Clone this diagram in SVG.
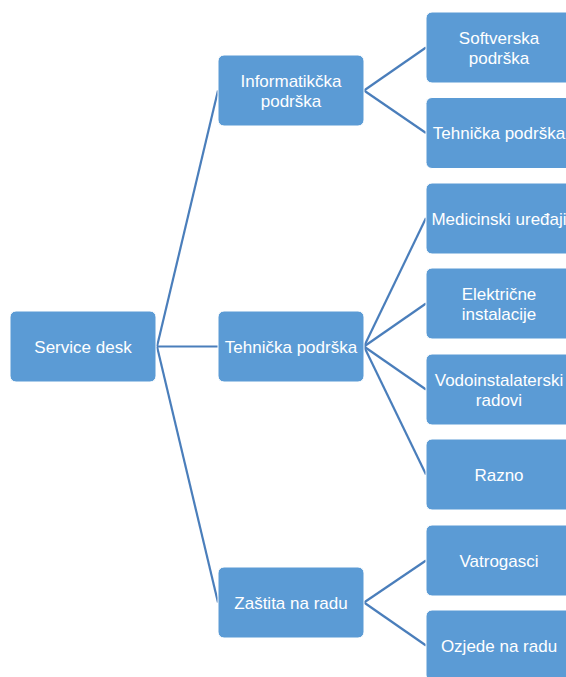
<svg xmlns="http://www.w3.org/2000/svg" width="566" height="677" viewBox="0 0 566 677">
<style>
.box{fill:#5B9BD5;stroke:#FFFFFF;stroke-width:1}
.lbl{font-family:"Liberation Sans",Arial,sans-serif;font-size:17px;fill:#FFFFFF;text-anchor:middle}
.con{stroke:#4A7EBB;stroke-width:2.2;fill:none}
</style>
<rect width="566" height="677" fill="#FFFFFF"/>
<g id="connectors">
<line class="con" x1="157" y1="346.5" x2="218" y2="90.5"/>
<line class="con" x1="157" y1="346.5" x2="218" y2="346.5"/>
<line class="con" x1="157" y1="346.5" x2="218" y2="602.5"/>
<line class="con" x1="364" y1="90.5" x2="426" y2="47.5"/>
<line class="con" x1="364" y1="90.5" x2="426" y2="133"/>
<line class="con" x1="364" y1="346.5" x2="426" y2="218"/>
<line class="con" x1="364" y1="346.5" x2="426" y2="303.5"/>
<line class="con" x1="364" y1="346.5" x2="426" y2="389.5"/>
<line class="con" x1="364" y1="346.5" x2="426" y2="474.5"/>
<line class="con" x1="364" y1="602.5" x2="426" y2="560.5"/>
<line class="con" x1="364" y1="602.5" x2="426" y2="645.5"/>
</g>
<g id="service-desk"><rect class="box" x="10" y="311" width="146" height="71" rx="6"/><text class="lbl" x="83" y="352.5">Service desk</text></g>
<g id="informaticka"><rect class="box" x="218" y="55" width="146" height="71" rx="6"/><text class="lbl" x="291" y="86.5">Informatikčka</text><text class="lbl" x="291" y="107">podrška</text></g>
<g id="tehnicka"><rect class="box" x="218" y="311" width="146" height="71" rx="6"/><text class="lbl" x="291" y="352.5">Tehnička podrška</text></g>
<g id="zastita"><rect class="box" x="218" y="567" width="146" height="71" rx="6"/><text class="lbl" x="291" y="608.5">Zaštita na radu</text></g>
<g id="softverska"><rect class="box" x="426" y="12" width="146" height="71" rx="6"/><text class="lbl" x="499" y="43.5">Softverska</text><text class="lbl" x="499" y="64">podrška</text></g>
<g id="tehnicka-leaf"><rect class="box" x="426" y="97.5" width="146" height="71" rx="6"/><text class="lbl" x="499" y="139">Tehnička podrška</text></g>
<g id="medicinski"><rect class="box" x="426" y="183" width="146" height="71" rx="6"/><text class="lbl" x="499" y="224.5">Medicinski uređaji</text></g>
<g id="elektricne"><rect class="box" x="426" y="268" width="146" height="71" rx="6"/><text class="lbl" x="499" y="299.5">Električne</text><text class="lbl" x="499" y="320">instalacije</text></g>
<g id="vodoinstalaterski"><rect class="box" x="426" y="354" width="146" height="71" rx="6"/><text class="lbl" x="499" y="385.5">Vodoinstalaterski</text><text class="lbl" x="499" y="406">radovi</text></g>
<g id="razno"><rect class="box" x="426" y="439" width="146" height="71" rx="6"/><text class="lbl" x="499" y="480.5">Razno</text></g>
<g id="vatrogasci"><rect class="box" x="426" y="525" width="146" height="71" rx="6"/><text class="lbl" x="499" y="566.5">Vatrogasci</text></g>
<g id="ozjede"><rect class="box" x="426" y="610" width="146" height="71" rx="6"/><text class="lbl" x="499" y="651.5">Ozjede na radu</text></g>
</svg>
